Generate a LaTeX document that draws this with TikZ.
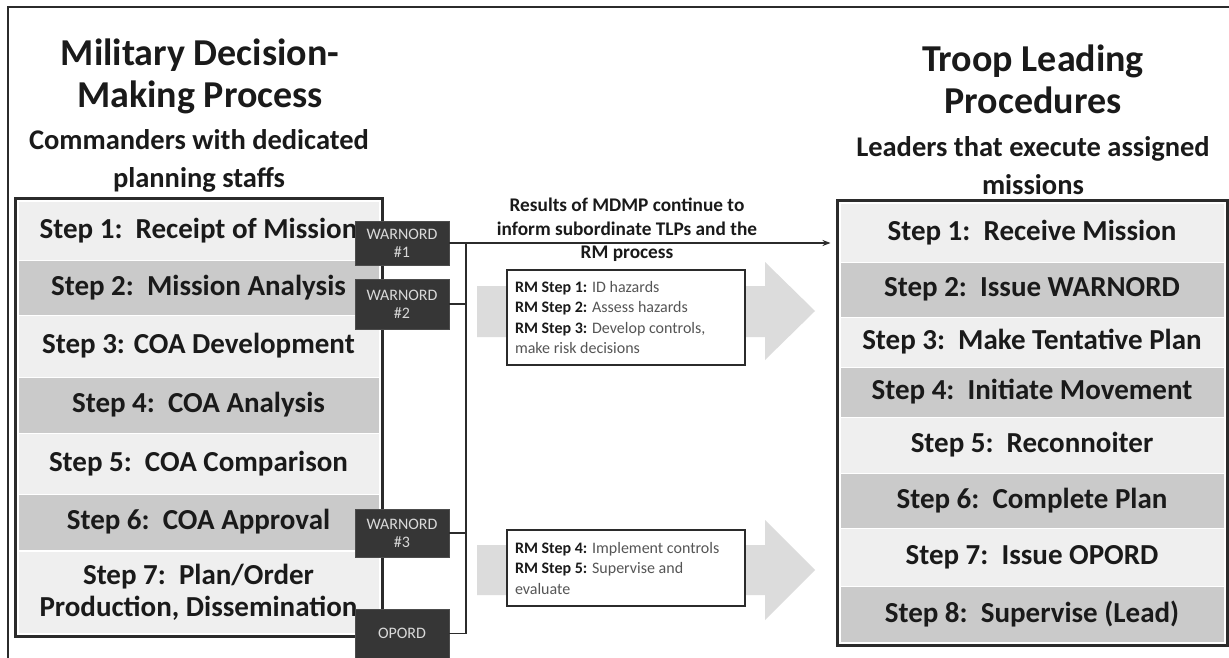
\documentclass[tikz,border=0pt]{standalone}
\usepackage{fontspec}
\setmainfont{Carlito}
\usetikzlibrary{arrows.meta}
\definecolor{lt}{HTML}{EFEFEF}
\definecolor{dk}{HTML}{CACACA}
\definecolor{txt}{HTML}{1A1A1A}
\definecolor{frame}{HTML}{2B2B2B}
\definecolor{wbox}{HTML}{363636}
\definecolor{garrow}{HTML}{DCDCDC}
\definecolor{rmgray}{HTML}{555555}
\tikzset{
  lrow/.style={draw=white, line width=1pt, minimum width=361, inner sep=0pt, align=center,
    font=\fontsize{29}{32}\selectfont\bfseries, text=txt},
  rrow/.style={draw=white, line width=1pt, minimum width=384, inner sep=0pt, align=center,
    font=\fontsize{29}{32}\selectfont\bfseries, text=txt},
  outerbox/.style={draw=frame, line width=3pt, inner sep=0pt},
  ordbox/.style={fill=wbox, draw=black!70, line width=0.6pt, minimum width=94, inner sep=0pt,
    align=center, text=white!85!black, font=\fontsize{16}{18}\selectfont},
  rmbox/.style={fill=white, draw=frame, line width=1.2pt, inner sep=0pt, minimum width=238,
    text width=222, align=flush left, font=\fontsize{16}{20.5}\selectfont, text=rmgray},
  title/.style={align=center, font=\fontsize{38}{42}\selectfont\bfseries, text=txt},
  subtitle/.style={align=center, font=\fontsize{28.5}{38}\selectfont\bfseries, text=txt},
  link/.style={draw=frame, line width=1.3pt},
  bigarrow/.style={fill=garrow, draw=none}
}
\newcommand{\rmb}[1]{\textbf{\color{txt}#1}}
\begin{document}
\begin{tikzpicture}[x=1pt,y=-1pt]
\useasboundingbox (0,0) rectangle (1229,658);
\fill[white] (0,0) rectangle (1229,658);
% outer frame
\draw[draw=frame, line width=2pt] (8,658) -- (8,7) -- (1229,7);

% titles
\node[title] (lt1) at (200,76) {Military Decision-\\Making Process};
\node[subtitle] (ls1) at (199,161) {Commanders with dedicated\\planning staffs};
\node[title] (rt1) at (1033,79) {Troop Leading\\Procedures};
\node[subtitle] (rs1) at (1033,166) {Leaders that execute assigned\\missions};

% gray big arrows
\fill[bigarrow] (477,286) -- (765,286) -- (765,262) -- (815,311) -- (765,360) -- (765,337) -- (477,337) -- cycle;
\fill[bigarrow] (477,545) -- (765,545) -- (765,520) -- (815,570) -- (765,620) -- (765,595) -- (477,595) -- cycle;

% left box
\node[outerbox, minimum width=367, minimum height=438] (lbox) at (198.5,417) {};
\node[lrow, fill=lt, minimum height=59] (m1) at (198.5,231) {Step 1:\ \ Receipt of Mission};
\node[lrow, fill=dk, minimum height=55] (m2) at (198.5,288) {Step 2:\ \ Mission Analysis};
\node[lrow, fill=lt, minimum height=62] (m3) at (198.5,346) {Step 3: COA Development};
\node[lrow, fill=dk, minimum height=56] (m4) at (198.5,405) {Step 4:\ \ COA Analysis};
\node[lrow, fill=lt, minimum height=61] (m5) at (198.5,463.5) {Step 5:\ \ COA Comparison};
\node[lrow, fill=dk, minimum height=56] (m6) at (198.5,522) {Step 6:\ \ COA Approval};
\node[lrow, fill=lt, minimum height=82] (m7) at (198.5,592) {Step 7:\ \ Plan/Order\\Production, Dissemination};

% right box
\node[outerbox, minimum width=390, minimum height=445] (rbox) at (1032,422.5) {};
\node[rrow, fill=lt, minimum height=59] (t1) at (1032,232.5) {Step 1:\ \ Receive Mission};
\node[rrow, fill=dk, minimum height=55] (t2) at (1032,289.5) {Step 2:\ \ Issue WARNORD};
\node[rrow, fill=lt, minimum height=50] (t3) at (1032,342) {Step 3:\ \ Make Tentative Plan};
\node[rrow, fill=dk, minimum height=50] (t4) at (1032,392) {Step 4:\ \ Initiate Movement};
\node[rrow, fill=lt, minimum height=56] (t5) at (1032,445) {Step 5:\ \ Reconnoiter};
\node[rrow, fill=dk, minimum height=55] (t6) at (1032,500.5) {Step 6:\ \ Complete Plan};
\node[rrow, fill=lt, minimum height=58] (t7) at (1032,557) {Step 7:\ \ Issue OPORD};
\node[rrow, fill=dk, minimum height=56] (t8) at (1032,614) {Step 8:\ \ Supervise (Lead)};

% order boxes
\node[ordbox, minimum height=44] (w1) at (402,243) {WARNORD\\\#1};
\node[ordbox, minimum height=50] (w2) at (402,304) {WARNORD\\\#2};
\node[ordbox, minimum height=48] (w3) at (402,533) {WARNORD\\\#3};
\node[ordbox, minimum height=49] (op) at (402,633.5) {OPORD};

% connectors
\coordinate (jt) at (466,243);
\coordinate (jb) at (466,633.5);
\draw[link, -{Stealth[length=8pt,width=6pt]}] (w1.east) -- (w1.east -| rbox.west) [shorten >=5pt];
\draw[link] (jt) -- (jb);
\draw[link] (w2.east) -- (w2.east -| jt);
\draw[link] (w3.east) -- (w3.east -| jt);
\draw[link] (op.east) -- (jb);

% results label
\node[align=center, font=\fontsize{19.3}{23.5}\selectfont\bfseries, text=txt] (res) at (627,230)
  {Results of MDMP continue to\\inform subordinate TLPs and the\\RM process};

% RM boxes
\node[rmbox, minimum height=95] (rm1) at (626,317.5)
  {\rmb{RM Step 1:} ID hazards\\\rmb{RM Step 2:} Assess hazards\\\rmb{RM Step 3:} Develop controls, make risk decisions};
\node[rmbox, minimum height=76] (rm2) at (626,568)
  {\rmb{RM Step 4:} Implement controls\\\rmb{RM Step 5:} Supervise and evaluate};
\end{tikzpicture}
\end{document}
